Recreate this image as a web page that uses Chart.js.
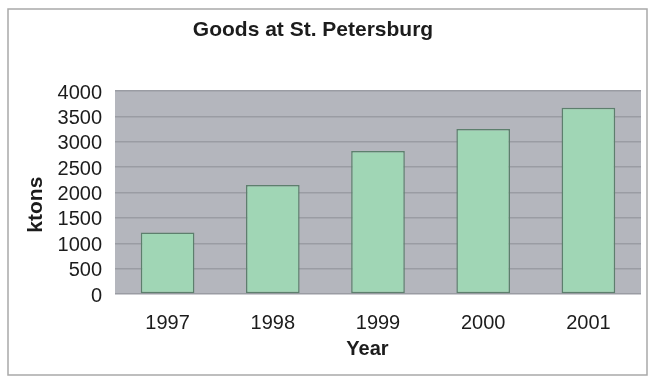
<!DOCTYPE html>
<html>
<head>
<meta charset="utf-8">
<script src="https://cdn.jsdelivr.net/npm/chart.js@4/dist/chart.umd.min.js"></script>
<style>
  html, body { margin: 0; padding: 0; background: #ffffff; }
  #wrap { position: relative; width: 650px; height: 378px; }
</style>
</head>
<body>
<div id="wrap"><canvas id="chart" width="650" height="378"></canvas></div>
<script>
// Yearly goods turnover at the port of St. Petersburg
const years = ['1997', '1998', '1999', '2000', '2001'];
const ktons = [1210, 2150, 2820, 3250, 3670];
const yTicks = [0, 500, 1000, 1500, 2000, 2500, 3000, 3500, 4000];

const chartTitle = 'Goods at St. Petersburg';
const xTitle = 'Year';
const yTitle = 'ktons';

const FONT = '"Liberation Sans", Arial, Helvetica, sans-serif';
const TEXT = '#1c1c1c';

// Grey plot area, outer frame and the text titles
const decor = {
  id: 'decor',
  beforeDraw(chart) {
    const { ctx, chartArea: a } = chart;
    ctx.save();
    ctx.fillStyle = '#ffffff';
    ctx.fillRect(0, 0, chart.width, chart.height);
    ctx.strokeStyle = '#a9a9a9';
    ctx.lineWidth = 1.5;
    ctx.strokeRect(8, 9, 639, 366);
    ctx.fillStyle = '#b4b6bd';
    ctx.fillRect(a.left, a.top, a.right - a.left, a.bottom - a.top);
    ctx.restore();
  },
  afterDraw(chart) {
    const { ctx, chartArea: a } = chart;
    ctx.save();
    ctx.fillStyle = TEXT;
    ctx.textAlign = 'center';
    ctx.textBaseline = 'middle';
    ctx.font = 'bold 21px ' + FONT;
    ctx.fillText(chartTitle, 313, 30);
    ctx.font = 'bold 20px ' + FONT;
    ctx.fillText(xTitle, a.left + (a.right - a.left) * 0.48, 349);
    ctx.translate(36, a.top + (a.bottom - a.top) * 0.56);
    ctx.rotate(-Math.PI / 2);
    ctx.font = 'bold 21px ' + FONT;
    ctx.fillText(yTitle, 0, 0);
    ctx.restore();
  }
};

new Chart(document.getElementById('chart'), {
  type: 'bar',
  data: {
    labels: years,
    datasets: [{
      label: yTitle,
      data: ktons,
      backgroundColor: '#a0d6b5',
      borderColor: '#5d7f6d',
      borderWidth: 1.5,
      borderSkipped: false,
      categoryPercentage: 1,
      barPercentage: 0.51
    }]
  },
  options: {
    responsive: false,
    animation: false,
    devicePixelRatio: 1,
    layout: { padding: { left: 0, right: 9, top: 91, bottom: 0 } },
    plugins: {
      legend: { display: false },
      title: { display: false },
      tooltip: { enabled: false }
    },
    scales: {
      x: {
        grid: { display: false, drawTicks: false },
        border: { display: false },
        ticks: {
          color: TEXT,
          font: { family: FONT, size: 20 },
          padding: 17,
          maxRotation: 0
        },
        afterFit(scale) { scale.height = 84; }
      },
      y: {
        min: 0,
        max: 4000,
        afterBuildTicks(scale) { scale.ticks = yTicks.map(v => ({ value: v })); },
        grid: { color: '#9a9ca3', lineWidth: 1.5, drawTicks: false },
        border: { display: false },
        ticks: {
          color: TEXT,
          font: { family: FONT, size: 20 },
          padding: 13,
          labelOffset: 2,
          autoSkip: false,
          callback: (v) => String(v)
        },
        afterFit(scale) { scale.width = 115; }
      }
    }
  },
  plugins: [decor]
});
</script>
</body>
</html>
